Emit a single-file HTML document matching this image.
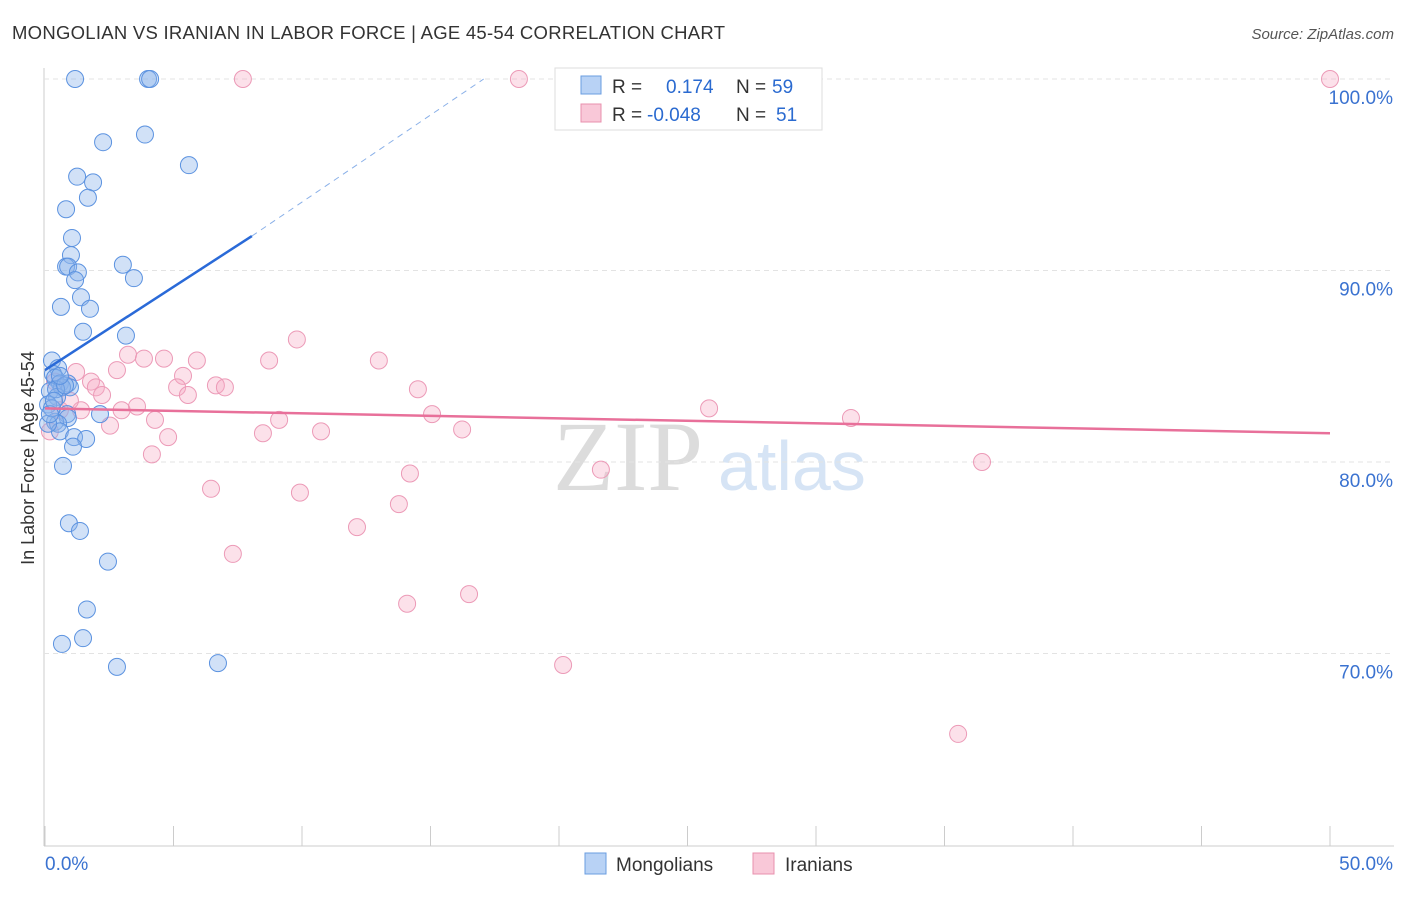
<!DOCTYPE html>
<html><head><meta charset="utf-8"><style>
body{margin:0;background:#fff;font-family:"Liberation Sans",sans-serif;}
</style></head><body>
<svg id="chart" width="1406" height="892" font-family="Liberation Sans, sans-serif">
<text x="12" y="39" font-size="18.5" fill="#333" textLength="713">MONGOLIAN VS IRANIAN IN LABOR FORCE | AGE 45-54 CORRELATION CHART</text>
<text x="1394" y="39" font-size="15" fill="#555" font-style="italic" text-anchor="end">Source: ZipAtlas.com</text>
<text x="34" y="458" font-size="18" fill="#333" transform="rotate(-90 34 458)" text-anchor="middle">In Labor Force | Age 45-54</text>
<text x="553" y="490" font-size="100" fill="#dcdcdc" style="font-family:'Liberation Serif',serif">ZIP</text>
<text x="718" y="490" font-size="70" fill="#d6e4f5">atlas</text>
<g id="grid"></g><g id="pts"></g><g id="lines"></g>
<g>
<rect x="555" y="68" width="267" height="62" fill="#fff" stroke="#ddd"/>
<rect x="581" y="76" width="20" height="18" fill="#b8d2f5" stroke="#6a9de0"/>
<rect x="581" y="104" width="20" height="18" fill="#f9c8d8" stroke="#e890ae"/>
<text x="612" y="93" font-size="19" fill="#333">R = <tspan x="666" fill="#2a6ad0">0.174</tspan><tspan x="736">N = </tspan><tspan x="772" fill="#2a6ad0">59</tspan></text>
<text x="612" y="121" font-size="19" fill="#333">R = <tspan x="647" fill="#2a6ad0">-0.048</tspan><tspan x="736">N = </tspan><tspan x="776" fill="#2a6ad0">51</tspan></text>
</g>
<g>
<rect x="585" y="853" width="21" height="21" fill="#b8d2f5" stroke="#6a9de0"/>
<text x="616" y="871" font-size="19" fill="#333">Mongolians</text>
<rect x="753" y="853" width="21" height="21" fill="#f9c8d8" stroke="#e890ae"/>
<text x="785" y="871" font-size="19" fill="#333">Iranians</text>
</g>
</svg>
<script>
const yTicks=[100,90,80,70];
const xTickLabels=["0.0%","50.0%"];
const blueX=[1.17,4.01,4.09,3.89,2.26,5.60,1.25,1.87,1.67,0.82,1.05,1.01,0.82,0.90,1.28,3.03,1.17,3.46,1.40,0.62,1.75,1.48,3.15,0.27,0.51,0.31,0.39,0.58,0.89,0.97,0.66,0.19,0.47,0.12,0.86,0.89,2.14,0.39,0.51,0.58,1.13,1.60,1.09,0.70,0.93,1.36,2.45,1.63,1.48,0.66,2.80,6.73,0.12,0.27,0.43,0.78,0.58,0.19,0.35];
const blueY=[100,100,100,97.1,96.7,95.5,94.9,94.6,93.8,93.2,91.7,90.8,90.2,90.2,89.9,90.3,89.5,89.6,88.6,88.1,88.0,86.8,86.6,85.3,84.9,84.6,84.4,84.1,84.1,83.9,83.9,83.7,83.4,83.0,82.5,82.3,82.5,82.1,82.0,81.6,81.3,81.2,80.8,79.8,76.8,76.4,74.8,72.3,70.8,70.5,69.3,69.5,82.0,82.8,83.8,84.0,84.5,82.5,83.2];
const pinkX=[7.70,18.44,50,9.80,3.23,3.85,4.63,5.91,8.72,12.99,2.80,1.21,5.37,1.79,1.98,5.14,6.65,7.00,14.51,5.56,2.22,3.58,2.98,1.40,15.06,25.84,31.36,4.28,2.53,9.11,4.79,8.48,10.74,16.23,0.19,4.16,21.63,14.20,36.46,6.46,9.92,13.77,12.14,7.31,16.50,14.09,20.16,35.53,0.58,0.97,0.39];
const pinkY=[100,100,100,86.4,85.6,85.4,85.4,85.3,85.3,85.3,84.8,84.7,84.5,84.2,83.9,83.9,84.0,83.9,83.8,83.5,83.5,82.9,82.7,82.7,82.5,82.8,82.3,82.2,81.9,82.2,81.3,81.5,81.6,81.7,81.6,80.4,79.6,79.4,80.0,78.6,78.4,77.8,76.6,75.2,73.1,72.6,69.4,65.8,82.7,83.2,84.2];
const blueTrend=[[0,84.8],[8.05,91.8],[17.07,100]];
const pinkTrend=[[0,82.8],[50,81.5]];
const X=v=>45+v/50*1285, Y=v=>79+(100-v)*19.15;
const NS="http://www.w3.org/2000/svg";
function mk(t,a,p){const e=document.createElementNS(NS,t);for(const k in a)e.setAttribute(k,a[k]);p.appendChild(e);return e;}
const grid=document.getElementById('grid');
mk('line',{x1:44,y1:68,x2:44,y2:846,stroke:'#ccc'},grid);
mk('line',{x1:44,y1:846,x2:1394,y2:846,stroke:'#ccc'},grid);
for(let i=0;i<=10;i++){const x=X(i*5);const l=mk('line',{x1:x,y1:826,x2:x,y2:846,stroke:'#ccc'},grid);

}
yTicks.forEach(v=>{const l=mk('line',{x1:44,y1:Y(v),x2:1394,y2:Y(v),stroke:'#e3e3e3','stroke-dasharray':'5,4'},grid);


const t=mk('text',{x:1393,y:Y(v)+25,'font-size':19,fill:'#3a72d0','text-anchor':'end'},grid);t.textContent=v.toFixed(1)+'%';

});
xTickLabels.forEach((s,i)=>{const t=mk('text',{x:i?1393:45,y:870,'font-size':19,fill:'#3a72d0','text-anchor':i?'end':'start'},grid);t.textContent=s;

});
const pts=document.getElementById('pts');
pinkX.forEach((x,i)=>{const c=mk('circle',{cx:X(x),cy:Y(pinkY[i]),r:8.5,fill:'rgba(246,170,196,0.35)',stroke:'#ec9ab7','stroke-width':1},pts);

});
blueX.forEach((x,i)=>{const c=mk('circle',{cx:X(x),cy:Y(blueY[i]),r:8.5,fill:'rgba(140,180,235,0.4)',stroke:'#5b92e0','stroke-width':1},pts);

});
const lines=document.getElementById('lines');
let b=mk('line',{x1:X(blueTrend[0][0]),y1:Y(blueTrend[0][1]),x2:X(blueTrend[1][0]),y2:Y(blueTrend[1][1]),stroke:'#2a6ad8','stroke-width':2.5},lines);


let bd=mk('line',{x1:X(blueTrend[1][0]),y1:Y(blueTrend[1][1]),x2:X(blueTrend[2][0]),y2:Y(blueTrend[2][1]),stroke:'#8ab0e8','stroke-width':1,'stroke-dasharray':'6,5'},lines);


let p=mk('line',{x1:X(pinkTrend[0][0]),y1:Y(pinkTrend[0][1]),x2:X(pinkTrend[1][0]),y2:Y(pinkTrend[1][1]),stroke:'#e8709a','stroke-width':2.5},lines);


</script>
</body></html>
